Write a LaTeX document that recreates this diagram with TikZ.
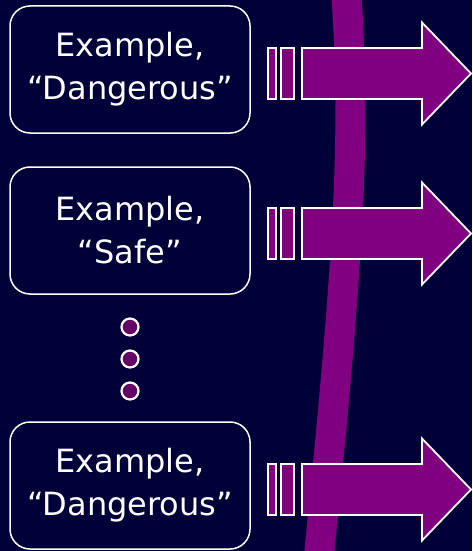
\documentclass[tikz,border=0pt]{standalone}
\usepackage{fontspec}
\setmainfont{DejaVu Sans}
\definecolor{navy}{RGB}{0,0,56}
\definecolor{plum}{RGB}{128,0,128}
\definecolor{darkplum}{RGB}{102,0,102}
\begin{document}
\begin{tikzpicture}[x=1pt,y=-1pt,
	example/.style={draw=white,line width=1.5pt,rounded corners=20pt,fill=navy,text=white,
		align=center,minimum width=240pt,minimum height=127pt,inner sep=0pt,
		font=\fontsize{32}{43}\selectfont},
	arrowpart/.style={draw=white,line width=1.8pt,fill=plum,line join=miter},
	morebox/.style={circle,draw=white,line width=2.2pt,fill=darkplum,minimum size=17pt,inner sep=0pt}]
	
	% Background
	\path[use as bounding box,fill=navy] (0,0) rectangle (472,551);
	
	% Boundary
	\draw[plum,line width=30pt] (346,-10) .. controls (356,130) and (350,250) .. (318,565);
	
	% Examples
	\node[example] (dangerA) at (130,69.5) {Example,\\“Dangerous”};
	\node[example] (safe) at (130,230.5) {Example,\\“Safe”};
	\node[example] (dangerB) at (130,485.5) {Example,\\“Dangerous”};
	
	% more examples
	\node[morebox] (dotA) at (130,327) {};
	\node[morebox] (dotB) at (130,359) {};
	\node[morebox] (dotC) at (130,391) {};
	
	% Arrow 1
	\draw[arrowpart] (268,48) rectangle (276,99);
	\draw[arrowpart] (281,48) rectangle (294,99);
	\draw[arrowpart] (302,48) -- (422,48) -- (422,22.5) -- (471,73.5) -- (422,124.5) -- (422,99) -- (302,99) -- cycle;
	
	% Arrow 2
	\draw[arrowpart] (268,208) rectangle (276,259);
	\draw[arrowpart] (281,208) rectangle (294,259);
	\draw[arrowpart] (302,208) -- (422,208) -- (422,182.5) -- (471,233.5) -- (422,284.5) -- (422,259) -- (302,259) -- cycle;
	
	% Arrow 3
	\draw[arrowpart] (268,464) rectangle (276,515);
	\draw[arrowpart] (281,464) rectangle (294,515);
	\draw[arrowpart] (302,464) -- (422,464) -- (422,438.5) -- (471,489.5) -- (422,540.5) -- (422,515) -- (302,515) -- cycle;
	
\end{tikzpicture}
\end{document}
